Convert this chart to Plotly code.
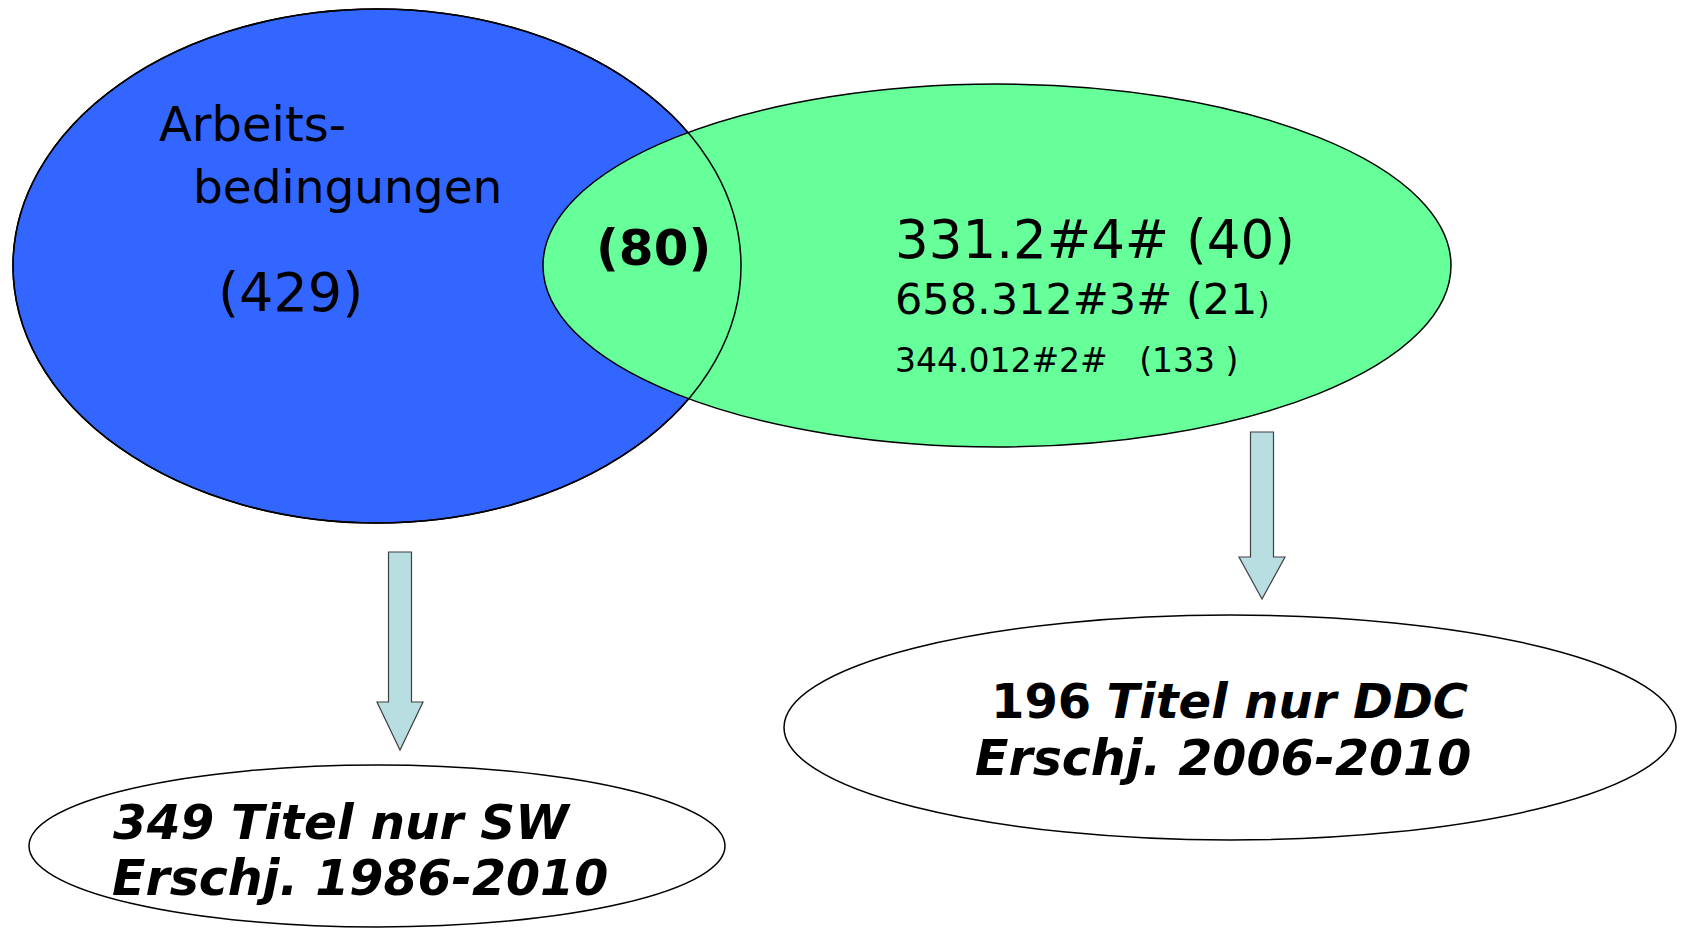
import plotly.graph_objects as go

# ---- data ----
set_a_label = ["Arbeits-", "bedingungen"]
set_a_count = 429
overlap_count = 80
ddc_codes = ["331.2#4#", "658.312#3#", "344.012#2#"]
ddc_counts = [40, 21, 133]
only_sw_count = 349
only_sw_years = "1986-2010"
only_ddc_count = 196
only_ddc_years = "2006-2010"

W, H = 1685, 930
BLUE = "#3366FF"
GREEN = "#66FF99"
ARROW = "#B8DEE1"

fig = go.Figure()
fig.add_trace(go.Scatter(x=[0], y=[0], mode="markers", marker=dict(opacity=0), hoverinfo="skip", showlegend=False))

shapes = []
def ell(x0, y0, x1, y1, fill, lw=1.5):
    shapes.append(dict(type="circle", xref="x", yref="y", x0=x0, y0=y0, x1=x1, y1=y1,
                       fillcolor=fill, line=dict(color="black", width=lw), layer="above"))

# main Venn
ell(13, 9, 741, 523, BLUE)
ell(543, 84, 1451, 447, GREEN)
ell(13, 9, 741, 523, "rgba(0,0,0,0)")  # blue outline on top
# result ellipses
ell(29, 765, 725, 927, "white")
ell(784, 615, 1676, 840, "white")

def arrow(cx, top, head_y, tip, shaft_w, head_w):
    p = (f"M {cx-shaft_w/2},{top} L {cx+shaft_w/2},{top} L {cx+shaft_w/2},{head_y} "
         f"L {cx+head_w/2},{head_y} L {cx},{tip} L {cx-head_w/2},{head_y} "
         f"L {cx-shaft_w/2},{head_y} Z")
    shapes.append(dict(type="path", xref="x", yref="y", path=p, fillcolor=ARROW,
                       line=dict(color="#404040", width=1.2), layer="above"))

arrow(400, 552, 702, 750, 23, 46)
arrow(1262, 432, 557, 599, 23, 46)

ann = []
def txt(x, y, s, size, family="DejaVu Sans", xanchor="left"):
    ann.append(dict(x=x, y=y, xref="x", yref="y", text=s, showarrow=False,
                    xanchor=xanchor, yanchor="middle",
                    font=dict(family=family, size=size, color="black")))

txt(157, 124, set_a_label[0], 48)
txt(191, 186, set_a_label[1], 47)
txt(216, 292, f"({set_a_count})", 54)
txt(594, 248, f"<b>({overlap_count})</b>", 50)
txt(893, 239, f"{ddc_codes[0]} ({ddc_counts[0]})", 53)
txt(893, 299, f"{ddc_codes[1]} ({ddc_counts[1]}<span style='font-size:31px'>)</span>", 43)
txt(893, 360, f"{ddc_codes[2]}   ({ddc_counts[2]} )", 33)

BI = "DejaVu Sans"
txt(111, 822, f"<b><i>{only_sw_count} Titel nur SW</i></b>", 48.5, BI)
txt(110, 878, f"<b><i>Erschj. {only_sw_years}</i></b>", 49, BI)
txt(989, 701, f"<b>{only_ddc_count}</b> <b><i>Titel nur DDC</i></b>", 48, BI)
txt(973, 758, f"<b><i>Erschj. {only_ddc_years}</i></b>", 49, BI)

fig.update_layout(
    width=W, height=H, margin=dict(l=0, r=0, t=0, b=0),
    paper_bgcolor="white", plot_bgcolor="white",
    xaxis=dict(range=[0, W], visible=False, fixedrange=True),
    yaxis=dict(range=[H, 0], visible=False, fixedrange=True),
    shapes=shapes, annotations=ann, showlegend=False,
)

fig.write_html("out.html", config={"displayModeBar": False},
               post_script="document.body.style.margin='0';document.body.style.overflow='hidden';")
